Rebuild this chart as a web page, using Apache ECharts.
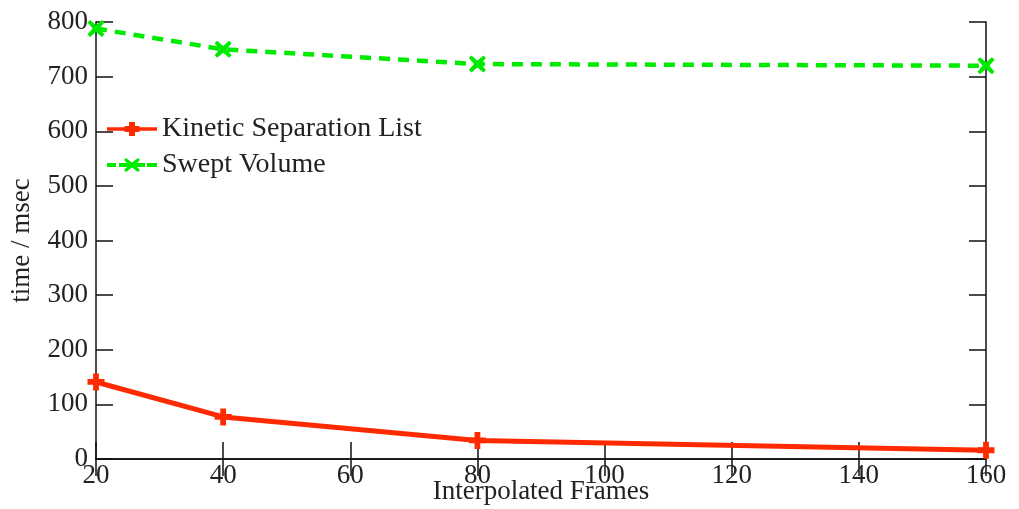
<!DOCTYPE html>
<html><head><meta charset="utf-8">
<script src="https://cdn.jsdelivr.net/npm/echarts@6/dist/echarts.min.js"></script>
<style>html,body{margin:0;padding:0;background:#fff}#c{width:1019px;height:509px}</style>
</head><body><div id="c"></div>
<script>
const frames = [20, 40, 80, 160];
const kineticSeparationList = [141, 77, 34, 16];
const sweptVolume = [788, 750, 723, 720];
const seriesNames = ['Kinetic Separation List', 'Swept Volume'];
const xAxisTitle = 'Interpolated Frames';
const yAxisTitle = 'time / msec';

const FONT = '"Liberation Serif", "DejaVu Serif", serif';
const RED = '#ff2a00';
const GREEN = '#00ea00';
const plusPath = 'path://M3.3,0H6.7V3.3H10V6.7H6.7V10H3.3V6.7H0V3.3H3.3Z';
const crossPath = 'path://M1.5,0L5,3L8.5,0L10,1.5L7,5L10,8.5L8.5,10L5,7L1.5,10L0,8.5L3,5L0,1.5Z';
const redIcon = 'path://M0,5.3H50V8.7H0Z M22,0H28V14H22Z M17.5,4H32.5V10H17.5Z';
const greenIcon = 'path://M0,5H9V9H0Z M40,5H50V9H40Z M12,5H38V9H12Z M19,0L25,4.5L31,0L33,2L28,7L33,12L31,14L25,9.5L19,14L17,12L22,7L17,2Z';

const axisLine = {show: true, lineStyle: {color: '#111', width: 1.5}};
const axisTick = {show: true, inside: true, length: 17, lineStyle: {color: '#111', width: 1.5}};
const labelStyle = {fontFamily: FONT, fontSize: 27, color: '#222'};

const chart = echarts.init(document.getElementById('c'));
chart.setOption({
  animation: false,
  backgroundColor: '#fff',
  grid: {left: 96, right: 33, top: 22, bottom: 50, containLabel: false, outerBoundsMode: 'none'},
  legend: {
    orient: 'vertical', left: 102, top: 110, itemGap: 8,
    itemWidth: 50, itemHeight: 14,
    textStyle: {fontFamily: FONT, fontSize: 28, color: '#222'},
    data: [
      {name: seriesNames[0], icon: redIcon, itemStyle: {color: RED}},
      {name: seriesNames[1], icon: greenIcon, itemStyle: {color: GREEN}}
    ]
  },
  xAxis: [
    {type: 'value', min: 20, max: 160, interval: 20, position: 'bottom',
     axisLine, axisTick, splitLine: {show: false},
     axisLabel: Object.assign({margin: 3}, labelStyle),
     name: xAxisTitle, nameLocation: 'middle', nameGap: 19, nameMoveOverlap: false,
     nameTextStyle: {fontFamily: FONT, fontSize: 27, color: '#222'}},
    {type: 'value', min: 20, max: 160, interval: 20, position: 'top',
     axisLine, axisTick, splitLine: {show: false}, axisLabel: {show: false}}
  ],
  yAxis: [
    {type: 'value', min: 0, max: 800, interval: 100, position: 'left',
     axisLine, axisTick, splitLine: {show: false},
     axisLabel: Object.assign({margin: 8}, labelStyle),
     name: yAxisTitle, nameLocation: 'middle', nameGap: 61, nameRotate: 90, nameMoveOverlap: false,
     nameTextStyle: {fontFamily: FONT, fontSize: 27, color: '#222'}},
    {type: 'value', min: 0, max: 800, interval: 100, position: 'right',
     axisLine, axisTick, splitLine: {show: false}, axisLabel: {show: false}}
  ],
  series: [
    {name: seriesNames[0], type: 'line', xAxisIndex: 0, yAxisIndex: 0,
     data: frames.map((f, i) => [f, kineticSeparationList[i]]),
     symbol: plusPath, symbolSize: 17, showAllSymbol: true,
     lineStyle: {color: RED, width: 5}, itemStyle: {color: RED, borderWidth: 0}},
    {name: seriesNames[1], type: 'line', xAxisIndex: 0, yAxisIndex: 0,
     data: frames.map((f, i) => [f, sweptVolume[i]]),
     symbol: crossPath, symbolSize: 17, showAllSymbol: true,
     lineStyle: {color: GREEN, width: 4.5, type: [11, 8]}, itemStyle: {color: GREEN, borderWidth: 0}}
  ]
});
</script></body></html>
